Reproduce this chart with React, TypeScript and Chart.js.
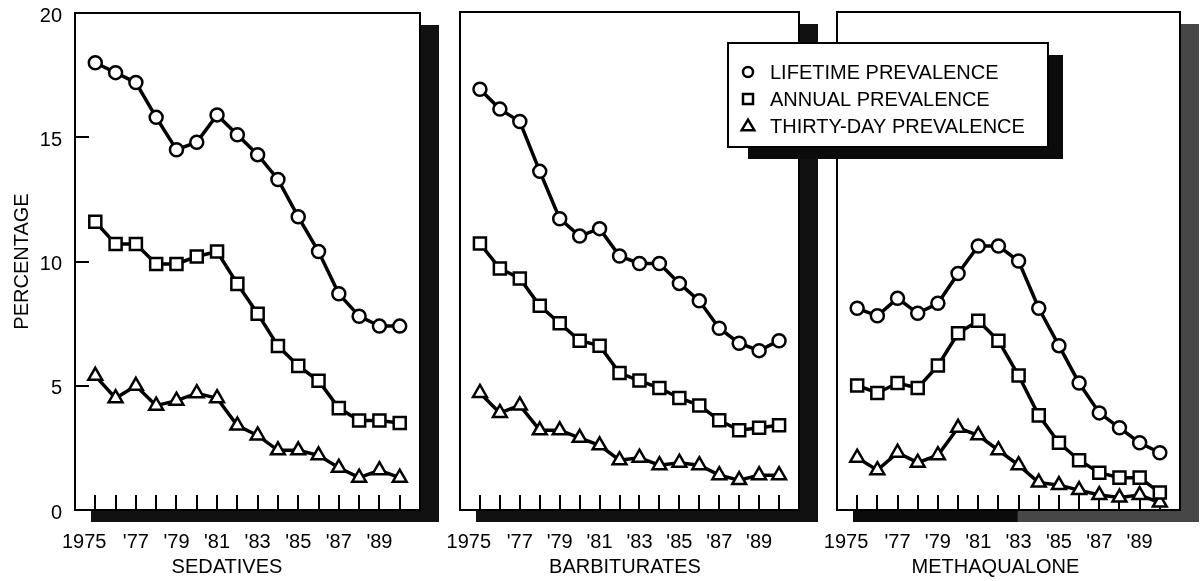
import React, { useEffect, useRef } from 'react';
import { Chart, registerables } from 'chart.js';

Chart.register(...registerables);

// ---------- data ----------
const years = [1975, 1976, 1977, 1978, 1979, 1980, 1981, 1982, 1983, 1984, 1985, 1986, 1987, 1988, 1989, 1990];
const xLabelYears = [1975, 1977, 1979, 1981, 1983, 1985, 1987, 1989];
const xLabelTexts = ['1975    ', "'77", "'79", "'81", "'83", "'85", "'87", "'89"];
const yTickValues = [0, 5, 10, 15, 20];
const yInnerTicks = [5, 10, 15];
const seriesNames = ['LIFETIME PREVALENCE', 'ANNUAL PREVALENCE', 'THIRTY-DAY PREVALENCE'];
const panelTitles = ['SEDATIVES', 'BARBITURATES', 'METHAQUALONE'];
const yAxisTitle = 'PERCENTAGE';

const sedativesLifetime = [18.0, 17.6, 17.2, 15.8, 14.5, 14.8, 15.9, 15.1, 14.3, 13.3, 11.8, 10.4, 8.7, 7.8, 7.4, 7.4];
const sedativesAnnual = [11.6, 10.7, 10.7, 9.9, 9.9, 10.2, 10.4, 9.1, 7.9, 6.6, 5.8, 5.2, 4.1, 3.6, 3.6, 3.5];
const sedativesThirtyDay = [5.4, 4.5, 5.0, 4.2, 4.4, 4.7, 4.5, 3.4, 3.0, 2.4, 2.4, 2.2, 1.7, 1.3, 1.6, 1.3];

const barbituratesLifetime = [16.9, 16.1, 15.6, 13.6, 11.7, 11.0, 11.3, 10.2, 9.9, 9.9, 9.1, 8.4, 7.3, 6.7, 6.4, 6.8];
const barbituratesAnnual = [10.7, 9.7, 9.3, 8.2, 7.5, 6.8, 6.6, 5.5, 5.2, 4.9, 4.5, 4.2, 3.6, 3.2, 3.3, 3.4];
const barbituratesThirtyDay = [4.7, 3.9, 4.2, 3.2, 3.2, 2.9, 2.6, 2.0, 2.1, 1.8, 1.9, 1.8, 1.4, 1.2, 1.4, 1.4];

const methaqualoneLifetime = [8.1, 7.8, 8.5, 7.9, 8.3, 9.5, 10.6, 10.6, 10.0, 8.1, 6.6, 5.1, 3.9, 3.3, 2.7, 2.3];
const methaqualoneAnnual = [5.0, 4.7, 5.1, 4.9, 5.8, 7.1, 7.6, 6.8, 5.4, 3.8, 2.7, 2.0, 1.5, 1.3, 1.3, 0.7];
const methaqualoneThirtyDay = [2.1, 1.6, 2.3, 1.9, 2.2, 3.3, 3.0, 2.4, 1.8, 1.1, 1.0, 0.8, 0.6, 0.5, 0.6, 0.3];

// ---------- styles ----------
const FONT = '"Liberation Sans", Arial, Helvetica, sans-serif';
const pointStyles = ['circle', 'rect', 'triangle'];
const pointRadii = [6.5, 8.5, 8];

Chart.defaults.font.family = FONT;
Chart.defaults.color = '#000';

const panels = [
  {
    title: panelTitles[0],
    series: [sedativesLifetime, sedativesAnnual, sedativesThirtyDay],
    left: 0, width: 440, z: 1,
    padding: { left: 0, right: 20, top: 13, bottom: 0 },
    showY: true, titleShift: -20.5, shadow: '#111', legend: false,
  },
  {
    title: panelTitles[1],
    series: [barbituratesLifetime, barbituratesAnnual, barbituratesThirtyDay],
    left: 440, width: 380, z: 1,
    padding: { left: 17, right: 21, top: 12, bottom: 0 },
    showY: false, titleShift: -4.5, shadow: '#111', legend: false,
  },
  {
    title: panelTitles[2],
    series: [methaqualoneLifetime, methaqualoneAnnual, methaqualoneThirtyDay],
    left: 700, width: 502, z: 2,
    padding: { left: 137, right: 22, top: 12, bottom: 0 },
    showY: false, titleShift: -13, shadow: '#474747', legend: true,
  },
];

function drawMarker(ctx: CanvasRenderingContext2D, style: string, x: number, y: number, r: number) {
  ctx.beginPath();
  if (style === 'circle') {
    ctx.arc(x, y, r, 0, Math.PI * 2);
  } else if (style === 'rect') {
    ctx.rect(x - r, y - r, 2 * r, 2 * r);
  } else {
    const h = r * 1.75;
    ctx.moveTo(x, y - h * 0.6);
    ctx.lineTo(x + r * 1.05, y + h * 0.4);
    ctx.lineTo(x - r * 1.05, y + h * 0.4);
    ctx.closePath();
  }
  ctx.fillStyle = '#fff';
  ctx.fill();
  ctx.stroke();
}

const framePlugin = {
  id: 'frame',
  beforeDraw(chart: any, _args: any, opts: any) {
    const { ctx, chartArea: a } = chart;
    ctx.save();
    ctx.fillStyle = opts.shadow;
    ctx.fillRect(a.left + 16, a.top + 12, a.width + 3, a.height);
    if (opts.legend) {
      ctx.fillStyle = '#0b0b0b';
      ctx.fillRect(a.left + 16, a.bottom, a.width * 0.48, 12);
    }
    ctx.fillStyle = '#fff';
    ctx.fillRect(a.left, a.top, a.width, a.height);
    ctx.restore();
  },
  beforeDatasetsDraw(chart: any, _args: any, opts: any) {
    const { ctx, chartArea: a } = chart;
    const xs = chart.scales.x;
    const ys = chart.scales.y;
    ctx.save();
    ctx.strokeStyle = '#000';
    ctx.lineWidth = 2;
    ctx.strokeRect(a.left, a.top, a.width, a.height);
    ctx.beginPath();
    years.forEach((yr) => {
      const px = Math.round(xs.getPixelForValue(yr));
      ctx.moveTo(px, a.bottom);
      ctx.lineTo(px, a.bottom - 15);
    });
    if (opts.showY) {
      yInnerTicks.forEach((v) => {
        const py = Math.round(ys.getPixelForValue(v));
        ctx.moveTo(a.left, py);
        ctx.lineTo(a.left + 14, py);
      });
    }
    ctx.stroke();
    ctx.restore();
  },
  afterDraw(chart: any, _args: any, opts: any) {
    const { ctx, chartArea: a } = chart;
    ctx.save();
    ctx.fillStyle = '#000';
    ctx.font = `20px ${FONT}`;
    ctx.textAlign = 'center';
    ctx.textBaseline = 'middle';
    ctx.fillText(opts.title, (a.left + a.right) / 2 + opts.titleShift, 567);

    if (opts.legend) {
      const bx = 28, by = 43, bw = 320, bh = 104;
      ctx.fillStyle = '#0b0b0b';
      ctx.fillRect(bx + 20, by + 12, bw - 5, bh);
      ctx.fillStyle = '#fff';
      ctx.fillRect(bx, by, bw, bh);
      ctx.strokeStyle = '#000';
      ctx.lineWidth = 2;
      ctx.strokeRect(bx, by, bw, bh);
      const rows = [72, 99, 126];
      chart.data.datasets.forEach((ds: any, i: number) => {
        ctx.lineWidth = 2.5;
        ctx.strokeStyle = '#000';
        drawMarker(ctx, pointStyles[i], bx + 20, rows[i], i === 2 ? 6 : 5);
        ctx.fillStyle = '#000';
        ctx.font = `20px ${FONT}`;
        ctx.textAlign = 'left';
        ctx.textBaseline = 'middle';
        ctx.fillText(ds.label, bx + 42, rows[i] + 1);
      });
    }
    ctx.restore();
  },
};

function Panel({ cfg }: { cfg: any }) {
  const ref = useRef<HTMLCanvasElement>(null);
  useEffect(() => {
    if (!ref.current) return;
    const chart = new Chart(ref.current, {
      type: 'line',
      data: {
        datasets: cfg.series.map((vals: number[], i: number) => ({
          label: seriesNames[i],
          data: years.map((yr, k) => ({ x: yr, y: vals[k] })),
          borderColor: '#000',
          borderWidth: 3.5,
          tension: 0,
          pointStyle: pointStyles[i],
          pointRadius: pointRadii[i],
          pointBorderWidth: 2.5,
          pointBorderColor: '#000',
          pointBackgroundColor: '#fff',
          clip: false,
        })),
      },
      options: {
        animation: false,
        responsive: false,
        layout: { padding: cfg.padding },
        plugins: {
          legend: { display: false },
          tooltip: { enabled: false },
          frame: {
            showY: cfg.showY,
            title: cfg.title,
            titleShift: cfg.titleShift,
            shadow: cfg.shadow,
            legend: cfg.legend,
          },
        } as any,
        scales: {
          x: {
            type: 'linear',
            min: 1974,
            max: 1991,
            afterFit: (s: any) => { s.height = 71; },
            grid: { display: false, drawTicks: false },
            border: { display: false },
            ticks: {
              stepSize: 1,
              autoSkip: false,
              maxRotation: 0,
              padding: 20,
              font: { size: 20, family: FONT },
              color: '#000',
              callback: (v: any) => {
                const idx = xLabelYears.indexOf(Number(v));
                return idx >= 0 ? xLabelTexts[idx] : '';
              },
            },
          },
          y: {
            type: 'linear',
            min: 0,
            max: 20,
            display: cfg.showY,
            afterFit: (s: any) => {
              if (cfg.showY) s.width = 75;
              s.paddingTop = 0;
              s.paddingBottom = 0;
            },
            afterBuildTicks: (s: any) => { s.ticks = yTickValues.map((v) => ({ value: v })); },
            grid: { display: false, drawTicks: false },
            border: { display: false },
            ticks: {
              padding: 13,
              labelOffset: 3,
              font: { size: 20, family: FONT },
              color: '#000',
            },
            title: {
              display: true,
              text: yAxisTitle,
              font: { size: 20, family: FONT },
              color: '#000',
              padding: { top: 10, bottom: 0 },
            },
          },
        },
      } as any,
      plugins: [framePlugin as any],
    });
    return () => chart.destroy();
  }, []);
  return (
    <canvas
      ref={ref}
      width={cfg.width}
      height={581}
      style={{ position: 'absolute', left: cfg.left, top: 0, zIndex: cfg.z, width: cfg.width, height: 581 }}
    />
  );
}

export default function App() {
  return (
    <div style={{ position: 'absolute', left: 0, top: 0, width: 1202, height: 581, overflow: 'hidden', background: '#fff' }}>
      {panels.map((p, i) => (
        <Panel key={i} cfg={p} />
      ))}
    </div>
  );
}
